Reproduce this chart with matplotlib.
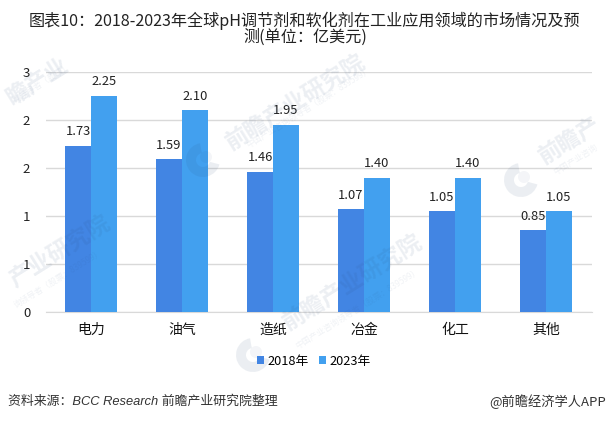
"""
Marché mondial des régulateurs de pH, par application
"""
import matplotlib
matplotlib.use("Agg")
import matplotlib.pyplot as plt
from matplotlib.patches import Wedge, Circle
from matplotlib.transforms import IdentityTransform
import numpy as np

plt.rcParams['font.family'] = ['Noto Sans CJK SC', 'DejaVu Sans']

categories = ["电力", "油气", "造纸", "冶金", "化工", "其他"]
val_2018 = [1.73, 1.59, 1.46, 1.07, 1.05, 0.85]
val_2023 = [2.25, 2.10, 1.95, 1.40, 1.40, 1.05]
lab_2018 = ["1.73", "1.59", "1.46", "1.07", "1.05", "0.85"]
lab_2023 = ["2.25", "2.10", "1.95", "1.40", "1.40", "1.05"]

W, H = 608, 423
fig = plt.figure(figsize=(W / 100, H / 100), dpi=100)
ax = fig.add_axes([45.5 / W, 1 - 312 / H, 546 / W, 240 / H])

x = np.arange(len(categories))
larg = 26 / 91
b1 = ax.bar(x - larg / 2, val_2018, larg, color="#4285e3", label="2018年", zorder=3)
b2 = ax.bar(x + larg / 2, val_2023, larg, color="#42a0ef", label="2023年", zorder=3)
for i in range(len(categories)):
    ax.text(x[i] - larg / 2, val_2018[i] + 0.146, lab_2018[i], ha="center", va="center", fontsize=9.3, color="#222222", zorder=4)
    ax.text(x[i] + larg / 2, val_2023[i] + 0.146, lab_2023[i], ha="center", va="center", fontsize=9.3, color="#222222", zorder=4)

ax.set_xlim(-0.5, 5.5)
ax.set_ylim(0, 2.5)
ax.set_yticks([0, 0.5, 1, 1.5, 2, 2.5])
ax.set_yticklabels(["0", "1", "1", "2", "2", "3"], fontsize=9.5, color="#222222")
ax.set_xticks(x)
ax.set_xticklabels(categories, fontsize=10, color="#111111")
ax.tick_params(length=0)
ax.tick_params(axis="x", pad=8)
ax.tick_params(axis="y", pad=11)
ax.grid(axis="y", color="#d9d9d9", linewidth=1, zorder=0)
ax.set_axisbelow(True)
for s in ["top", "right", "left"]:
    ax.spines[s].set_visible(False)
ax.spines["bottom"].set_color("#d9d9d9")

fig.legend(handles=[b1, b2], loc="center", bbox_to_anchor=(314 / W, 1 - 361 / H), ncol=2, frameon=False,
           fontsize=9.2, handlelength=0.55, handleheight=0.55, handletextpad=0.3, columnspacing=0.75)

fig.text(304.5 / W, 1 - 21 / H, "图表10：2018-2023年全球pH调节剂和软化剂在工业应用领域的市场情况及预", ha="center", va="center", fontsize=11.6, color="#222222")
fig.text(305 / W, 1 - 37.5 / H, "测(单位：亿美元)", ha="center", va="center", fontsize=11.6, color="#222222")
fig.text(8 / W, 1 - 402 / H, "资料来源：BCC Research 前瞻产业研究院整理", ha="left", va="center", fontsize=9.3, style="italic",
         color="#333333", family=['Liberation Sans', 'Noto Sans CJK SC'])
fig.text(606 / W, 1 - 402 / H, "@前瞻经济学人APP", ha="right", va="center", fontsize=9.5, color="#333333")

# filigrane par-dessus le graphique
fil = "#2a4a78"
gros = [("瞻产业", 38, 82), ("前瞻产业研究院", 296, 103), ("前瞻产", 570, 141), ("产业研究院", 60, 252), ("前瞻产业研究院", 353, 283)]
petit = [("询领导者（股票）", 42, 83), ("中国产业咨询领导者（股票：839599）", 309, 108), ("中国产业咨询", 576, 160),
         ("询领导者（股票：839599）", 58, 279), ("中国产业咨询领导者（股票：839599）", 358, 309)]
for txt, px, py in gros:
    fig.text(px / W, 1 - py / H, txt, fontsize=16.5, color=fil, alpha=0.09, rotation=32, rotation_mode="anchor",
             ha="center", va="center", fontweight="bold", zorder=5)
for txt, px, py in petit:
    fig.text(px / W, 1 - py / H, txt, fontsize=6, color=fil, alpha=0.07, rotation=32, rotation_mode="anchor",
             ha="center", va="center", zorder=5)
for px, py in [(203, 160), (521, 180), (253, 355)]:
    fig.add_artist(Wedge((px, H - py), 17, 100, 345, width=10, facecolor=fil, alpha=0.09, edgecolor="none",
                         transform=IdentityTransform(), zorder=5))
    fig.add_artist(Circle((px + 3, H - py + 3), 6, facecolor=fil, alpha=0.05, edgecolor="none",
                          transform=IdentityTransform(), zorder=5))

fig.savefig("out.png", dpi=100)
